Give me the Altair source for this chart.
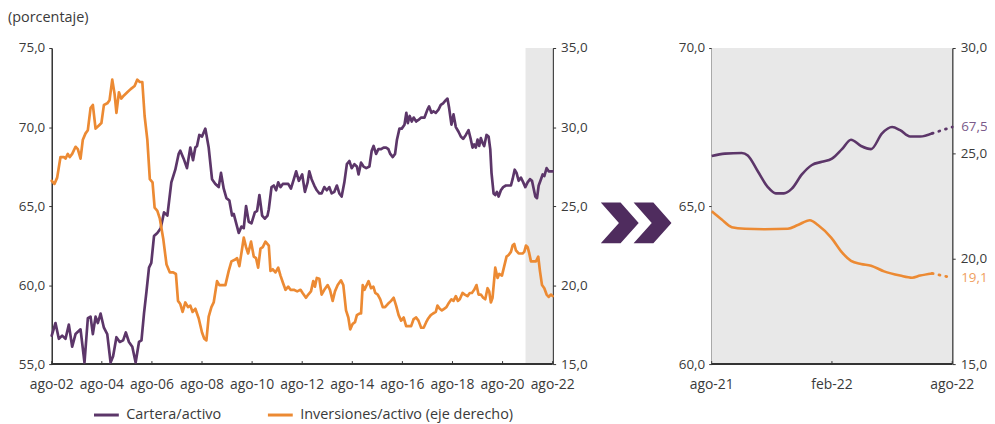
import altair as alt
import pandas as pd

# ---------------- data ----------------
serie_nombres = ["Cartera/activo", "Inversiones/activo (eje derecho)"]

# months since ago-02
meses_cartera = [0, 1.8, 3.4, 5.0, 6.6, 8.2, 9.8, 11.4, 13.8, 15.7, 17.3, 18.6, 19.7, 21.0, 22.1, 23.4, 25.0, 26.6,
                 28.2, 29.4, 31.0, 32.6, 34.2, 35.5, 37.0, 38.6, 40.2, 41.8, 43.0, 44.2, 45.4, 46.6, 47.7, 49.0,
                 50.6, 52.2, 53.8, 55.4, 57.3, 59.2, 60.8, 61.6, 63.2, 64.8, 66.4, 67.7, 68.8, 69.6, 70.7, 72.0,
                 73.6, 75.2, 76.8, 78.4, 80.0, 81.1, 82.4, 83.7, 85.1, 86.4, 87.2, 88.8, 89.6, 90.9, 92.0, 93.1,
                 94.4, 95.7, 97.3, 98.4, 99.5, 100.8, 102.1, 103.4, 104.0, 105.3, 106.4, 107.5, 108.5, 109.6,
                 110.7, 112.0, 113.3, 114.6, 116.0, 117.1, 118.4, 120.0, 121.3, 122.6, 123.4, 124.5, 125.8, 127.0,
                 128.2, 129.3, 130.6, 131.8, 133.0, 134.1, 135.4, 136.6, 137.8, 138.9, 140.2, 141.4, 142.6, 143.7,
                 145.0, 146.2, 147.0, 148.2, 149.4, 150.7, 152.2, 153.3, 154.2, 155.4, 156.5, 157.8, 159.0, 160.2,
                 161.3, 162.2, 163.4, 164.5, 165.4, 166.6, 167.7, 169.0, 169.9, 170.6, 171.5, 172.5, 173.4, 174.6,
                 175.7, 177.0, 178.6, 180.0, 180.8, 181.9, 182.9, 184.0, 185.3, 186.4, 187.5, 188.8, 189.6, 190.4,
                 191.5, 192.5, 193.6, 194.9, 196.0, 197.1, 198.4, 199.7, 200.8, 201.6, 202.4, 203.2, 204.0, 204.8,
                 205.6, 206.4, 207.2, 208.3, 209.3, 210.1, 210.7, 211.7, 212.5, 213.3, 214.1, 215.2, 216.3, 217.6,
                 218.9, 220.0, 220.8, 221.8, 222.7, 223.7, 224.8, 225.9, 226.9, 228.0, 229.1, 230.1, 230.9, 231.7,
                 232.5, 233.3, 234.4, 235.2, 236.0, 237.1, 238.1, 239.2, 240.0]
cartera = [56.8, 57.6, 56.6, 56.8, 56.6, 57.5, 56.1, 56.9, 57.2, 55.1, 57.9, 58.0, 56.9, 58.0, 57.6, 58.2, 57.3, 56.9,
           55.1, 55.5, 56.7, 56.4, 56.5, 57.0, 56.4, 56.1, 55.1, 56.4, 56.5, 58.2, 59.6, 61.1, 61.4, 63.1,
           63.3, 63.6, 64.6, 64.4, 66.5, 67.3, 68.3, 68.5, 68.0, 67.4, 68.7, 67.9, 68.7, 68.8, 69.5, 69.4,
           69.9, 68.7, 66.7, 66.4, 66.2, 67.1, 66.1, 65.5, 65.35, 64.4, 64.5, 63.7, 63.3, 63.7, 63.6, 65.0,
           64.0, 63.9, 64.6, 64.7, 65.7, 64.4, 64.2, 64.4, 64.8, 66.2, 66.3, 66.0, 66.5, 66.2,
           66.4, 66.4, 66.4, 66.1, 66.7, 67.2, 66.6, 67.0, 65.9, 66.5, 67.2, 66.7, 66.3, 66.0,
           65.8, 65.8, 66.2, 66.0, 66.2, 65.8, 65.9, 66.3, 65.8, 65.6, 66.5, 67.65, 67.85, 67.4,
           67.65, 67.5, 67.0, 67.75, 67.5, 67.4, 67.5, 68.5, 68.8, 68.3, 68.6, 68.6, 68.7, 68.7,
           68.6, 68.3, 68.1, 68.3, 69.2, 69.9, 69.9, 70.15, 70.9, 70.25, 70.7, 70.35, 70.6, 70.35,
           70.45, 70.6, 70.6, 71.1, 71.3, 70.9, 71.0, 70.9, 71.1, 71.4, 71.5, 71.7, 71.8, 71.2,
           70.15, 70.8, 70.0, 69.7, 69.4, 69.25, 69.5, 69.8, 69.2, 68.7, 68.9, 68.7, 69.2, 68.8,
           69.3, 69.0, 68.8, 69.5, 69.4, 68.6, 67.1, 65.8, 65.7, 65.9, 65.6, 66.0, 66.2, 66.3,
           66.3, 66.3, 66.7, 67.3, 67.1, 66.6, 66.8, 66.5, 66.2, 66.5, 66.7, 66.6, 66.1, 65.6,
           65.5, 66.3, 66.7, 67.0, 66.9, 67.4, 67.2, 67.2, 67.2]

meses_inversiones = [0, 1.3, 2.6, 4.2, 5.8, 6.6, 7.7, 8.6, 9.8, 11.4, 12.5, 13.8, 14.9, 16.2, 17.3, 18.6, 19.7, 21.0,
                     22.6, 23.8, 25.0, 26.6, 27.7, 29.0, 30.1, 31.0, 32.2, 33.3, 34.6, 36.2, 37.8, 39.7, 41.0,
                     42.2, 43.4, 44.5, 45.8, 47.0, 48.3, 49.3, 50.6, 51.8, 53.4, 55.0, 56.6, 58.2, 59.5, 60.5,
                     61.6, 62.7, 64.0, 65.3, 66.4, 67.5, 68.8, 70.4, 72.0, 73.1, 74.1, 75.2, 76.5, 77.6, 79.2,
                     80.3, 81.6, 83.2, 84.8, 86.1, 87.7, 88.8, 89.9, 91.2, 92.0, 93.1, 94.1, 95.5, 96.8, 97.9,
                     98.9, 100.0, 101.1, 102.4, 104.0, 104.8, 105.9, 107.2, 108.5, 109.6, 110.9, 112.0, 113.3,
                     114.4, 116.0, 117.6, 119.2, 120.2, 121.8, 122.9, 124.2, 125.3, 126.1, 127.0, 128.2, 129.3,
                     130.6, 132.2, 133.3, 134.6, 135.7, 137.0, 138.6, 139.7, 141.0, 142.1, 143.0, 144.2, 145.3,
                     146.2, 147.4, 148.2, 149.0, 149.8, 150.9, 151.8, 153.0, 154.1, 155.0, 156.2, 157.4, 158.6,
                     159.7, 161.0, 162.6, 163.8, 165.0, 166.2, 167.4, 168.6, 169.8, 171.0, 172.2, 173.4, 174.6,
                     175.7, 177.0, 178.2, 179.4, 180.2, 181.6, 182.7, 184.0, 184.8, 185.9, 186.9, 188.0, 189.1,
                     190.4, 191.5, 192.5, 193.6, 194.6, 195.5, 196.8, 197.9, 199.2, 200.3, 201.3, 202.4, 203.5,
                     204.5, 205.6, 206.7, 207.7, 208.8, 209.6, 210.4, 211.2, 212.5, 213.6, 214.4, 215.7, 216.8,
                     217.9, 218.9, 220.0, 220.8, 221.6, 222.4, 223.7, 224.8, 225.6, 226.4, 227.2, 228.0, 228.8,
                     229.6, 230.7, 232.0, 233.1, 233.9, 234.9, 236.0, 237.1, 238.1, 239.2, 240.0]
inversiones = [26.6, 26.4, 26.8, 28.1, 28.1, 28.0, 28.3, 28.1, 28.3, 28.75, 28.6, 28.0, 29.2, 29.6, 29.8, 31.2, 31.4, 29.9,
               30.1, 30.25, 31.4, 31.5, 31.7, 33.0, 32.1, 30.9, 32.2, 31.8, 32.0, 32.2, 32.4, 32.6, 33.0,
               32.85, 32.85, 30.7, 29.2, 26.7, 26.5, 24.9, 24.7, 24.2, 22.95, 21.3, 20.8, 20.8, 20.7, 19.0,
               18.8, 18.3, 18.9, 18.6, 18.7, 18.3, 18.5, 17.9, 17.0, 16.6, 16.5, 18.0, 18.6, 18.9, 20.25,
               20.0, 20.0, 20.0, 20.9, 21.5, 21.6, 21.7, 21.2, 22.3, 23.0, 22.4, 22.0, 22.75, 21.8, 21.7,
               21.1, 22.3, 22.4, 22.75, 22.5, 20.9, 21.0, 20.8, 21.1, 20.6, 20.1, 19.7, 19.9,
               19.7, 19.7, 19.6, 19.7, 19.5, 19.2, 19.4, 19.6, 20.25, 19.9, 20.45, 20.4, 19.4,
               19.7, 20.0, 19.7, 19.0, 19.6, 20.0, 20.3, 20.0, 18.4, 17.95, 17.2, 17.55, 17.65,
               18.1, 18.2, 18.2, 20.0, 19.7, 20.0, 20.25, 19.8, 19.9, 19.5, 19.4, 19.1, 18.6,
               18.6, 18.8, 19.0, 19.2, 18.7, 18.1, 17.75, 17.95, 17.4, 17.4, 17.4, 17.85, 17.95,
               17.75, 17.3, 17.3, 17.65, 17.85, 18.1, 18.2, 18.3, 18.7, 18.5, 18.4, 18.5, 18.6,
               18.9, 19.1, 19.0, 19.3, 19.0, 19.1, 19.5, 19.4, 19.3, 19.5, 19.5, 19.7, 20.0,
               19.4, 19.4, 19.2, 19.1, 19.8, 19.6, 18.9, 19.2, 21.1, 20.45, 20.7, 20.6, 21.2,
               21.8, 21.9, 22.1, 22.5, 22.6, 22.2, 22.0, 22.0, 22.0, 22.1, 22.5, 22.4, 22.0,
               21.5, 21.5, 21.5, 21.8, 20.9, 20.0, 19.8, 19.4, 19.25, 19.4, 19.3]

# zoom panel: months since ago-21
meses_zoom_cartera = [0, 0.66, 1.5, 1.8, 2.3, 2.8, 3.2, 3.6, 4.0, 4.5, 5.0, 5.5, 6.0, 6.5, 6.95, 7.45, 7.95,
                      8.5, 9.0, 9.4, 9.9, 10.4, 11.0]
cartera_zoom = [66.58, 66.66, 66.68, 66.6, 66.1, 65.6, 65.4, 65.4, 65.55, 66.0, 66.3, 66.4, 66.5, 66.8, 67.1,
                66.9, 66.8, 67.3, 67.5, 67.4, 67.2, 67.2, 67.3]
meses_zoom_inversiones = [0, 0.5, 1.0, 1.66, 2.65, 3.8, 4.3, 4.9, 5.3, 5.96, 6.5, 6.95, 7.45, 7.95, 8.6, 9.4,
                          10.0, 10.4, 11.0]
inversiones_zoom = [22.25, 21.86, 21.5, 21.42, 21.4, 21.42, 21.6, 21.83, 21.6, 21.0, 20.3, 19.9, 19.75, 19.67,
                    19.4, 19.2, 19.1, 19.2, 19.3]
# last (provisional, dotted) stretch
meses_final = [11.0, 12.0]
cartera_final = [67.3, 67.5]
inversiones_final = [19.3, 19.1]

ticks_izq = [0, 24, 48, 72, 96, 120, 144, 168, 192, 216, 240]
etiquetas_izq = ["ago-02", "ago-04", "ago-06", "ago-08", "ago-10", "ago-12", "ago-14", "ago-16", "ago-18",
                 "ago-20", "ago-22"]
ticks_zoom = [0, 6, 12]
etiquetas_zoom = ["ago-21", "feb-22", "ago-22"]
sombreado = [227, 240]

# ---------------- styling ----------------
PURPLE = "#5c3669"
ORANGE = "#ec8a33"
CHEV = "#4f2c5e"
GRAY = "#e8e8e8"
TXT = "#3a3a3a"
AX = "#333333"
FONT = "Open Sans"

W_LEFT = 504
X_RIGHT0 = 664
W_ALL = 906
H = 318

COMMA = "replace(format(datum.value, '.1f'), '.', ',')"


def yaxis(orient, values, offset=0, pad=4):
    return alt.Axis(orient=orient, values=values, labelExpr=COMMA, title=None, offset=offset,
                    ticks=True, tickSize=3, tickColor=AX, labelPadding=pad, domainColor=AX, domainWidth=1.5,
                    labelFont=FONT, labelFontSize=13.5, labelColor=TXT, grid=False)


xs_left = alt.Scale(domain=[0, 240], range=[0, W_LEFT], nice=False, zero=False)
xs_right = alt.Scale(domain=[0, 12], range=[X_RIGHT0, W_ALL], nice=False, zero=False)


def x_axis_layers(scale, ticks, labels):
    """bottom axis drawn from the tick lists through the panel's own x scale"""
    dticks = pd.DataFrame({"m": ticks, "lab": labels})
    dspan = pd.DataFrame({"a": [ticks[0]], "b": [ticks[-1]]})
    dom = alt.Chart(dspan).mark_rule(color=AX, strokeWidth=2).encode(
        x=alt.X("a:Q", scale=scale, axis=None), x2="b:Q", y=alt.value(H))
    tk = alt.Chart(dticks).mark_rule(color=AX, strokeWidth=1).encode(
        x=alt.X("m:Q", scale=scale, axis=None), y=alt.value(H - 3), y2=alt.value(H))
    lab = alt.Chart(dticks).mark_text(baseline="middle", align="center", fontSize=14, font=FONT,
                                      color=TXT).encode(
        x=alt.X("m:Q", scale=scale, axis=None), y=alt.value(H + 21), text="lab:N")
    return [dom, tk, lab]


color = alt.Color("serie:N",
                  scale=alt.Scale(domain=serie_nombres, range=[PURPLE, ORANGE]),
                  legend=alt.Legend(orient="none", legendX=41, legendY=355, direction="horizontal",
                                    title=None, symbolType="stroke", symbolStrokeWidth=3, symbolSize=625,
                                    labelFont=FONT, labelFontSize=14.5, labelColor=TXT, columnPadding=40,
                                    labelOffset=6, padding=0, labelLimit=500))

df_c = pd.DataFrame({"m": meses_cartera, "v": cartera, "serie": serie_nombres[0]})
df_i = pd.DataFrame({"m": meses_inversiones, "v": inversiones, "serie": serie_nombres[1]})
df_shade = pd.DataFrame({"a": [sombreado[0]], "b": [sombreado[1]]})

shade_left = alt.Chart(df_shade).mark_rect(color=GRAY).encode(
    x=alt.X("a:Q", scale=xs_left, axis=None), x2="b:Q", y=alt.value(0), y2=alt.value(H))

line_c = alt.Chart(df_c).mark_line(strokeWidth=2.7, strokeJoin="round", strokeCap="round").encode(
    x=alt.X("m:Q", scale=xs_left, axis=None),
    y=alt.Y("v:Q", scale=alt.Scale(domain=[55, 75], nice=False, zero=False), axis=yaxis("left", [55, 60, 65, 70, 75])),
    color=color)
line_i = alt.Chart(df_i).mark_line(strokeWidth=2.7, strokeJoin="round", strokeCap="round").encode(
    x=alt.X("m:Q", scale=xs_left, axis=None),
    y=alt.Y("v:Q", scale=alt.Scale(domain=[15, 35], nice=False, zero=False),
            axis=yaxis("right", [15, 20, 25, 30, 35], offset=-(W_ALL - W_LEFT), pad=5)),
    color=color)

left = alt.layer(shade_left, *x_axis_layers(xs_left, ticks_izq, etiquetas_izq), line_c, line_i
                 ).resolve_scale(y="independent")

# ---- zoom panel ----
df_bg = pd.DataFrame({"a": [ticks_zoom[0]], "b": [ticks_zoom[-1]]})
bg_right = alt.Chart(df_bg).mark_rect(color=GRAY).encode(
    x=alt.X("a:Q", scale=xs_right, axis=None), x2="b:Q", y=alt.value(0), y2=alt.value(H))

ys_rc = alt.Scale(domain=[60, 70], nice=False, zero=False)
ys_ri = alt.Scale(domain=[15, 30], nice=False, zero=False)

dz_c = pd.DataFrame({"m": meses_zoom_cartera, "v": cartera_zoom})
dz_i = pd.DataFrame({"m": meses_zoom_inversiones, "v": inversiones_zoom})
df_fc = pd.DataFrame({"m": meses_final, "v": cartera_final})
df_fi = pd.DataFrame({"m": meses_final, "v": inversiones_final})

rc_line = alt.Chart(dz_c).mark_line(color=PURPLE, strokeWidth=2.6, interpolate="monotone").encode(
    x=alt.X("m:Q", scale=xs_right, axis=None),
    y=alt.Y("v:Q", scale=ys_rc, axis=yaxis("left", [60, 65, 70], offset=-X_RIGHT0)))
rc_dot = alt.Chart(df_fc).mark_line(color=PURPLE, strokeWidth=2.8, strokeDash=[1, 6], strokeCap="round").encode(
    x=alt.X("m:Q", scale=xs_right, axis=None), y=alt.Y("v:Q", scale=ys_rc))
rc_lab = alt.Chart(df_fc.tail(1)).transform_calculate(
    t="replace(format(datum.v, '.1f'), '.', ',')").mark_text(
    color="#7a5a8a", align="left", baseline="middle", dx=9, fontSize=13.5, font=FONT).encode(
    x=alt.X("m:Q", scale=xs_right, axis=None), y=alt.Y("v:Q", scale=ys_rc), text="t:N")
right_c = alt.layer(rc_line, rc_dot, rc_lab)

ri_line = alt.Chart(dz_i).mark_line(color=ORANGE, strokeWidth=2.6, interpolate="monotone").encode(
    x=alt.X("m:Q", scale=xs_right, axis=None),
    y=alt.Y("v:Q", scale=ys_ri, axis=yaxis("right", [15, 20, 25, 30], pad=5)))
ri_dot = alt.Chart(df_fi).mark_line(color=ORANGE, strokeWidth=2.8, strokeDash=[1, 6], strokeCap="round").encode(
    x=alt.X("m:Q", scale=xs_right, axis=None), y=alt.Y("v:Q", scale=ys_ri))
ri_lab = alt.Chart(df_fi.tail(1)).transform_calculate(
    t="replace(format(datum.v, '.1f'), '.', ',')").mark_text(
    color="#f0a060", align="left", baseline="middle", dx=9, fontSize=13.5, font=FONT).encode(
    x=alt.X("m:Q", scale=xs_right, axis=None), y=alt.Y("v:Q", scale=ys_ri), text="t:N")
right_i = alt.layer(ri_line, ri_dot, ri_lab)

right = alt.layer(bg_right, *x_axis_layers(xs_right, ticks_zoom, etiquetas_zoom), right_c, right_i
                  ).resolve_scale(y="independent")

# ---- decorations: chevrons and unit note ----
CHEVRON = "M -0.93 -1 L 0.04 -1 L 0.93 0 L 0.04 1 L -0.93 1 L -0.04 0 Z"
one = alt.Data(values=[{"k": 1}])
chev1 = alt.Chart(one).mark_point(shape=CHEVRON, filled=True, size=1681, color=CHEV, opacity=1,
                                  strokeWidth=0).encode(x=alt.value(571.5), y=alt.value(176))
chev2 = alt.Chart(one).mark_point(shape=CHEVRON, filled=True, size=1681, color=CHEV, opacity=1,
                                  strokeWidth=0).encode(x=alt.value(604.5), y=alt.value(176))
note = alt.Chart(alt.Data(values=[{"t": "(porcentaje)"}])).mark_text(
    align="left", baseline="middle", fontSize=14.5, font=FONT, color=TXT).encode(
    x=alt.value(-44), y=alt.value(-30), text="t:N")

chart = alt.layer(left, right, chev1, chev2, note).resolve_scale(
    x="independent", y="independent"
).properties(
    width=W_ALL, height=H,
    padding={"left": 44, "top": 39, "right": 35, "bottom": 58},
    autosize=alt.AutoSizeParams(type="none"),
    background="white",
).configure_view(stroke=None)

chart.save("out.html", embed_options={"renderer": "svg", "actions": False})
